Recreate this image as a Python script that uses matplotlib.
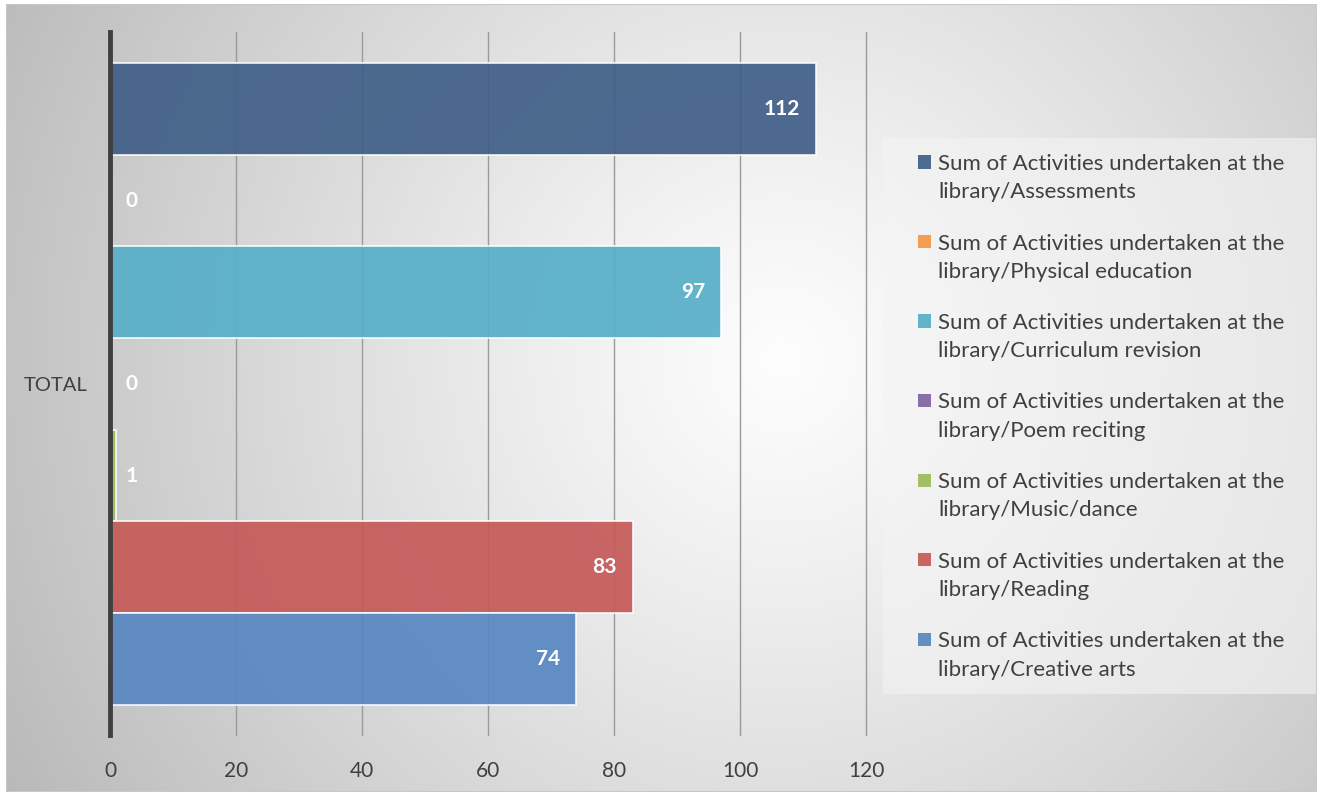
import numpy as np
import matplotlib
matplotlib.use("Agg")
import matplotlib.pyplot as plt
from matplotlib.patches import Rectangle

plt.rcParams['font.family'] = ['Lato', 'DejaVu Sans']

# dados (de cima para baixo)
series = ["Sum of Activities undertaken at the\nlibrary/Assessments",
          "Sum of Activities undertaken at the\nlibrary/Physical education",
          "Sum of Activities undertaken at the\nlibrary/Curriculum revision",
          "Sum of Activities undertaken at the\nlibrary/Poem reciting",
          "Sum of Activities undertaken at the\nlibrary/Music/dance",
          "Sum of Activities undertaken at the\nlibrary/Reading",
          "Sum of Activities undertaken at the\nlibrary/Creative arts"]
values = [112, 0, 97, 0, 1, 83, 74]
colors = ["#3f5e87", "#f79646", "#56afc8", "#8064a2", "#9bbb59", "#c55a58", "#5887c1"]
category = "TOTAL"
xticks = [0, 20, 40, 60, 80, 100, 120]

W, H = 1321, 796
fig = plt.figure(figsize=(W / 100, H / 100), dpi=100)
fig.patch.set_facecolor("white")

# fundo com gradiente radial
bg = fig.add_axes([6 / W, 4 / H, (1317 - 6) / W, (792 - 4) / H])
bg.set_zorder(-10)
yy, xx = np.mgrid[0:400, 0:660]
xx = xx * 2.0
yy = yy * 2.0
d = np.sqrt((xx - 780) ** 2 + (yy - 360) ** 2)
val = 253 - 58 * np.clip(d / 780, 0, 1.2) ** 1.15
img = np.dstack([val, val, val]) / 255.0
bg.imshow(img, extent=[0, 1, 0, 1], aspect="auto", origin="upper")
bg.set_xlim(0, 1)
bg.set_ylim(0, 1)
bg.axis("off")
bg.add_patch(Rectangle((0, 0), 1, 1, fill=False, edgecolor="#c8c8c8", lw=1.5,
                       transform=bg.transAxes))

ax = fig.add_axes([110 / W, 1 - 735 / H, 756 / W, 703 / H])
ax.set_facecolor("none")

n = len(values)
pos = np.arange(n)[::-1]
bars = ax.barh(pos, values, height=1.0, color=colors, alpha=0.92,
               edgecolor=(1, 1, 1, 0.55), linewidth=1.2, zorder=2)

ax.set_xlim(0, 120)
ax.set_ylim(-0.5 - 0.33, n - 0.5 + 0.34)
ax.set_xticks(xticks)
ax.set_xticklabels([str(t) for t in xticks])
ax.set_yticks([(n - 1) / 2])
ax.set_yticklabels([category])
ax.tick_params(axis="x", length=0, labelsize=15, labelcolor="#404040", pad=19)
ax.tick_params(axis="y", length=0, labelsize=14.5, labelcolor="#404040", pad=16)
ax.grid(axis="x", color="#9a9a9a", linewidth=1.0, zorder=0)
for gl in ax.get_xgridlines():
    gl.set_clip_on(False)
ax.set_axisbelow(True)
for s in ["top", "right", "bottom"]:
    ax.spines[s].set_visible(False)
ax.spines["left"].set_color("#404040")
ax.spines["left"].set_linewidth(3.5)
ax.spines["left"].set_zorder(5)

# rótulos de valores
for p, v in zip(pos, values):
    if v >= 10:
        ax.annotate(str(v), (v, p), xytext=(-11.5, 0), textcoords="offset points",
                    ha="right", va="center", color="white", fontsize=15,
                    fontweight="bold", zorder=6)
    else:
        ax.annotate(str(v), (0, p), xytext=(11.5, 0), textcoords="offset points",
                    ha="left", va="center", color="white", fontsize=15,
                    fontweight="bold", zorder=6)

# legenda (desenhada à mão, marcador alinhado à primeira linha)
fig.patches.append(Rectangle((883 / W, 1 - 694 / H), (1316 - 883) / W, (694 - 138) / H,
                             transform=fig.transFigure, facecolor="#f4f4f4",
                             alpha=0.6, edgecolor="none", zorder=1))
for i, (lab, c) in enumerate(zip(series, colors)):
    y1 = 162 + 79.5 * i
    fig.patches.append(Rectangle((918 / W, 1 - (y1 + 6.5) / H), 13 / W, 13 / H,
                                 transform=fig.transFigure, facecolor=c,
                                 alpha=0.92, edgecolor="none", zorder=2))
    for k, line in enumerate(lab.split("\n")):
        fig.text(938 / W, 1 - (y1 + 2 + 28.5 * k) / H, line, ha="left", va="center",
                 fontsize=16, color="#404040", zorder=3)

fig.savefig("out.png", dpi=100)
